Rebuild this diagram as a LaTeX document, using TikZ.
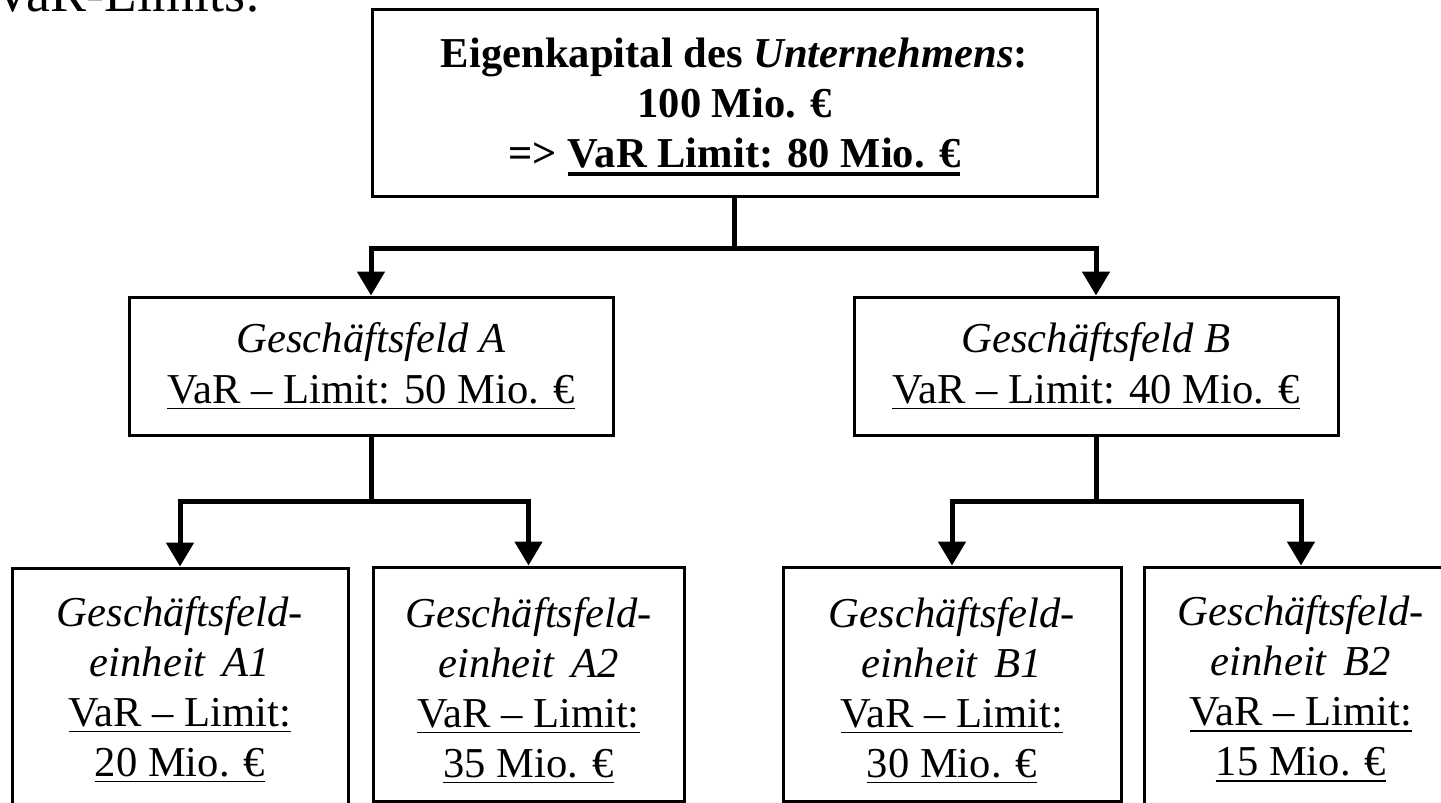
\documentclass[tikz,border=0pt]{standalone}
\usepackage{fontspec}
\setmainfont{Liberation Serif}
\usetikzlibrary{arrows.meta}
\newcommand\ulin[1]{\setbox0\hbox{#1}\rlap{\rule[-3pt]{\wd0}{0.75pt}}\box0}
\newcommand\ulthick[1]{\setbox0\hbox{#1}\rlap{\rule[-4pt]{\wd0}{1.6pt}}\box0}
\begin{document}
\begin{tikzpicture}[x=0.5pt,y=-0.5pt,
  box/.style={draw, line width=1.5pt, align=center, inner sep=0pt,
    font=\fontsize{21.3}{25}\selectfont},
  seg/.style={line width=2.5pt},
  conn/.style={line width=2.5pt, -{Triangle[width=13.5pt,length=12pt]}}]
\clip (0,0) rectangle (1441,803);
\fill[white] (0,0) rectangle (1441,803);
% heading (cut off at the top, as in the reference)
\node[anchor=base west, inner sep=0pt, font=\fontsize{27}{32}\selectfont] (title) at (-7,11) {VaR-Limits:};
% top box
\node[box, font=\fontsize{21.3}{25}\selectfont\bfseries, minimum width=362.5pt, minimum height=93.5pt] (top) at (734.5,102.5)
  {\rule{0pt}{19pt}Eigenkapital des \textit{Unternehmens}:\\ 100 Mio. €\\ => \ulthick{VaR Limit: 80 Mio. €}};
% level 2
\node[box, minimum width=242pt, minimum height=69pt] (A) at (371,366)
  {\textit{Geschäftsfeld A}\\ \ulin{VaR – Limit: 50 Mio. €}};
\node[box, minimum width=242pt, minimum height=69pt] (B) at (1096,366)
  {\textit{Geschäftsfeld B}\\ \ulin{VaR – Limit: 40 Mio. €}};
% level 3
\node[box, minimum width=168pt, minimum height=121pt] (A1) at (180,689)
  {\textit{Geschäftsfeld-}\\ \textit{einheit\hspace{0.4em}A1}\\ \ulin{VaR – Limit:}\\ \ulin{20 Mio. €}};
\node[box, minimum width=155.5pt, minimum height=117pt] (A2) at (528.5,684)
  {\rule{0pt}{21pt}\textit{Geschäftsfeld-}\\ \textit{einheit\hspace{0.4em}A2}\\ \ulin{VaR – Limit:}\\ \ulin{35 Mio. €}};
\node[box, minimum width=169pt, minimum height=117pt] (B1) at (952,684)
  {\rule{0pt}{21pt}\textit{Geschäftsfeld-}\\ \textit{einheit\hspace{0.4em}B1}\\ \ulin{VaR – Limit:}\\ \ulin{30 Mio. €}};
\node[box, minimum width=157pt, minimum height=121.5pt] (B2) at (1301,688.5)
  {\textit{Geschäftsfeld-}\\ \textit{einheit\hspace{0.4em}B2}\\ \ulin{VaR – Limit:}\\ \ulin{15 Mio. €}};
% connectors
\path (top.south) ++(0,51) coordinate (j0);
\draw[seg] (top.south) -- (j0);
\draw[conn] (j0) -| (A.north);
\draw[conn] (j0) -| (B.north);
\path (A.south) ++(0,65) coordinate (jA);
\draw[seg] (A.south) -- (jA);
\draw[conn] (jA) -| (A1.north);
\draw[conn] (jA) -| (A2.north);
\path (B.south) ++(0,65) coordinate (jB);
\draw[seg] (B.south) -- (jB);
\draw[conn] (jB) -| (B1.north);
\draw[conn] (jB) -| (B2.north);
\end{tikzpicture}
\end{document}
